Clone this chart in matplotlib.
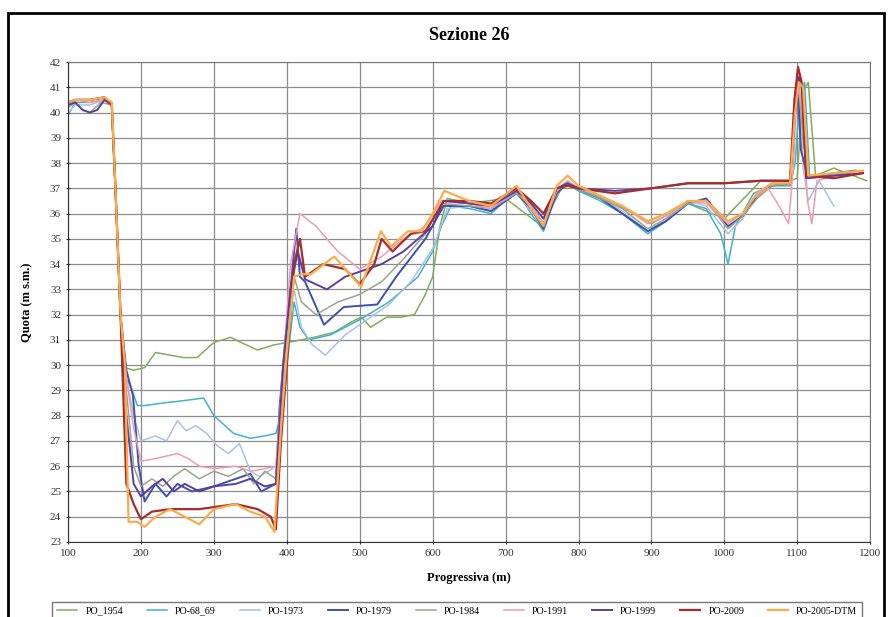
import matplotlib.pyplot as plt
from matplotlib.patches import Rectangle

# ==============================
# DATA
# ==============================
labels = ["PO_1954", "PO-68_69", "PO-1973", "PO-1979", "PO-1984",
          "PO-1991", "PO-1999", "PO-2009", "PO-2005-DTM"]
colors = ["#7fae5a", "#3fb2cf", "#a9c3df", "#3f4fb3", "#9aa58c",
          "#f09ab8", "#5b3f9e", "#a82c2c", "#ffab45"]
widths = [1.1, 1.1, 1.1, 1.4, 1.1, 1.1, 1.4, 1.6, 1.6]

x_1954 = [100, 110, 130, 150, 160, 165, 172, 178, 190, 205, 220, 258, 277, 300, 323, 337,
          360, 382, 401, 420, 437, 465, 488, 502, 515, 537, 557, 575, 590, 600, 610, 620,
          650, 700, 750, 780, 800, 850, 900, 950, 1000, 1050, 1090, 1100, 1107, 1115, 1125,
          1150, 1195]
y_1954 = [40.3, 40.5, 40.5, 40.6, 40.3, 37.0, 32.0, 29.9, 29.8, 29.9, 30.5, 30.3, 30.3, 30.9, 31.1, 30.9,
          30.6, 30.8, 30.9, 31.0, 31.1, 31.3, 31.7, 31.9, 31.5, 31.9, 31.9, 32.0, 32.8, 33.5, 35.5, 36.6,
          36.4, 36.6, 35.5, 37.2, 36.9, 36.4, 35.6, 36.4, 35.8, 37.3, 37.3, 37.4, 40.8, 41.2, 37.5,
          37.8, 37.3]

x_6869 = [100, 110, 130, 150, 160, 165, 172, 180, 188, 195, 205, 230, 260, 286, 300, 327,
          350, 370, 385, 392, 400, 410, 418, 430, 460, 500, 540, 580, 600, 612, 625,
          650, 680, 715, 735, 752, 770, 785, 800, 830, 860, 895, 920, 950, 975, 995, 1005,
          1015, 1040, 1065, 1090, 1097, 1103, 1110, 1117, 1140, 1170]
y_6869 = [39.9, 40.4, 40.4, 40.5, 40.3, 37.0, 32.0, 29.5, 29.0, 28.4, 28.4, 28.5, 28.6, 28.7, 28.0, 27.3,
          27.1, 27.2, 27.3, 28.0, 30.0, 32.5, 31.5, 31.0, 31.2, 31.8, 32.5, 33.5, 34.5, 35.5, 36.3,
          36.2, 36.0, 36.9, 36.0, 35.3, 36.8, 37.2, 36.9, 36.5, 36.0, 35.2, 35.7, 36.4, 36.2, 35.2, 34.0,
          35.5, 36.8, 37.1, 37.1, 38.0, 40.5, 41.2, 37.4, 37.5, 37.6]

x_1973 = [100, 110, 130, 150, 160, 165, 172, 180, 190, 200, 220, 235, 250, 262, 275, 290,
          305, 320, 335, 350, 362, 375, 385, 392, 400, 410, 420, 435, 453, 480, 510, 540,
          570, 600, 620, 650, 680, 715, 735, 752, 770, 785, 800, 830, 860, 895, 920, 950,
          975, 1005, 1025, 1045, 1065, 1090, 1097, 1103, 1108, 1115, 1130, 1150]
y_1973 = [40.0, 40.3, 40.3, 40.5, 40.3, 37.0, 32.0, 29.5, 28.0, 27.0, 27.2, 27.0, 27.8, 27.4, 27.6, 27.3,
          26.8, 26.5, 26.9, 25.8, 25.6, 25.8, 26.0, 28.0, 31.0, 33.0, 31.5, 30.8, 30.4, 31.2, 31.8, 32.4,
          33.3, 34.6, 36.2, 36.3, 36.1, 36.8, 36.1, 35.5, 36.9, 37.3, 37.0, 36.6, 36.1, 35.3, 35.8, 36.5,
          36.3, 35.2, 35.8, 36.8, 37.2, 37.2, 40.5, 41.5, 37.8, 36.5, 37.3, 36.3]

x_1979 = [100, 110, 130, 150, 160, 165, 172, 180, 189, 197, 205, 220, 235, 250, 270, 300,
          330, 350, 365, 378, 385, 390, 398, 405, 413, 418, 425, 451, 478, 524, 550, 590,
          615, 650, 680, 715, 735, 752, 770, 785, 800, 830, 860, 895, 920, 950, 975, 1005,
          1025, 1045, 1065, 1090, 1097, 1101, 1105, 1115, 1150, 1180]
y_1979 = [40.4, 40.5, 40.5, 40.6, 40.3, 37.0, 32.0, 29.8, 28.8, 26.0, 24.6, 25.3, 24.8, 25.3, 25.0, 25.2,
          25.5, 25.7, 25.0, 25.2, 25.3, 28.3, 31.0, 33.0, 35.4, 33.5, 33.3, 31.6, 32.3, 32.4, 33.5, 35.0,
          36.3, 36.3, 36.1, 36.8, 36.2, 35.4, 36.8, 37.2, 37.0, 36.6, 36.0, 35.3, 35.7, 36.4, 36.6, 35.5,
          35.9, 36.7, 37.1, 37.2, 40.0, 40.8, 38.5, 37.4, 37.6, 37.7]

x_1984 = [100, 110, 120, 130, 145, 160, 165, 172, 180, 190, 200, 215, 230, 245, 260, 280,
          300, 320, 340, 355, 370, 385, 392, 400, 410, 420, 440, 470, 500, 530, 560, 590,
          612, 650, 680, 715, 735, 752, 770, 785, 800, 830, 860, 895, 920, 950, 975, 1005,
          1025, 1045, 1065, 1090, 1097, 1102, 1108, 1115, 1150, 1185]
y_1984 = [40.2, 40.4, 40.1, 40.0, 40.4, 40.3, 37.0, 32.0, 29.0, 26.0, 25.2, 25.5, 25.2, 25.6, 25.9, 25.5,
          25.8, 25.6, 25.9, 25.3, 25.8, 25.5, 27.0, 30.5, 33.5, 32.5, 32.0, 32.5, 32.8, 33.3, 34.2, 35.2,
          36.4, 36.3, 36.2, 36.8, 36.3, 35.6, 36.9, 37.2, 37.0, 36.6, 36.2, 35.4, 35.8, 36.4, 36.5, 35.4,
          35.9, 36.6, 37.1, 37.2, 40.2, 41.0, 39.0, 37.4, 37.5, 37.7]

x_1991 = [100, 110, 130, 150, 160, 165, 172, 180, 190, 200, 220, 250, 265, 280, 300, 330,
          350, 370, 385, 395, 405, 418, 440, 470, 500, 530, 560, 590, 612, 650, 680, 715,
          735, 752, 770, 785, 800, 830, 860, 895, 920, 950, 975, 1005, 1025, 1040, 1060, 1075,
          1088, 1095, 1100, 1107, 1114, 1120, 1127, 1150]
y_1991 = [40.3, 40.5, 40.4, 40.5, 40.3, 37.0, 32.0, 29.5, 27.5, 26.2, 26.3, 26.5, 26.3, 26.0, 25.9, 26.0,
          25.8, 25.9, 26.0, 30.0, 34.0, 36.0, 35.5, 34.5, 33.8, 34.3, 35.0, 35.5, 36.5, 36.4, 36.2, 36.9,
          36.3, 35.6, 36.9, 37.3, 37.0, 36.7, 36.3, 35.6, 35.9, 36.5, 36.4, 35.6, 36.0, 36.6, 37.0, 36.3,
          35.6, 38.0, 41.3, 40.0, 36.5, 35.6, 37.3, 37.5]

x_1999 = [100, 110, 120, 130, 140, 150, 160, 165, 172, 180, 190, 200, 215, 230, 245, 260,
          280, 300, 330, 350, 370, 385, 395, 405, 415, 425, 455, 480, 530, 560, 600, 615,
          650, 680, 715, 735, 752, 770, 785, 800, 850, 900, 950, 1000, 1050, 1090, 1097, 1102,
          1107, 1112, 1150, 1190]
y_1999 = [40.3, 40.4, 40.1, 40.0, 40.1, 40.5, 40.3, 37.0, 32.0, 28.0, 25.3, 24.8, 25.2, 25.5, 25.0, 25.3,
          25.0, 25.2, 25.3, 25.5, 25.2, 25.3, 30.0, 33.0, 34.5, 33.4, 33.0, 33.5, 34.0, 34.5, 35.5, 36.5,
          36.4, 36.3, 36.9, 36.4, 35.8, 37.0, 37.2, 37.0, 36.9, 37.0, 37.2, 37.2, 37.3, 37.3, 40.0, 41.4,
          41.0, 37.4, 37.5, 37.6]

x_2009 = [100, 110, 130, 150, 160, 165, 172, 180, 190, 200, 215, 240, 280, 330, 360, 378,
          385, 392, 400, 410, 418, 425, 450, 480, 500, 520, 530, 545, 570, 590, 605, 615,
          650, 680, 715, 735, 752, 770, 785, 800, 850, 900, 950, 1000, 1050, 1090, 1096, 1101,
          1106, 1112, 1150, 1190]
y_2009 = [40.4, 40.5, 40.5, 40.6, 40.3, 37.0, 32.0, 25.3, 24.5, 23.9, 24.2, 24.3, 24.3, 24.5, 24.3, 24.0,
          23.5, 27.0, 30.0, 34.0, 35.0, 33.5, 34.0, 33.8, 33.2, 34.0, 35.0, 34.5, 35.2, 35.3, 36.0, 36.5,
          36.5, 36.4, 37.0, 36.5, 36.0, 37.0, 37.1, 37.0, 36.8, 37.0, 37.2, 37.2, 37.3, 37.3, 40.5, 41.8,
          41.2, 37.5, 37.4, 37.6]

x_dtm = [100, 110, 130, 150, 160, 165, 172, 178, 183, 195, 205, 220, 240, 260, 280, 300,
         330, 350, 370, 383, 392, 400, 410, 420, 433, 465, 502, 529, 543, 566, 585, 600,
         616, 650, 680, 715, 735, 752, 770, 785, 800, 830, 860, 895, 920, 950, 975, 1005,
         1025, 1045, 1065, 1090, 1097, 1102, 1108, 1115, 1150, 1190]
y_dtm = [40.4, 40.5, 40.5, 40.6, 40.4, 37.0, 32.0, 30.0, 23.8, 23.8, 23.6, 24.0, 24.3, 24.0, 23.7, 24.3,
         24.5, 24.2, 24.0, 23.4, 27.5, 30.5, 33.5, 33.6, 33.6, 34.3, 33.1, 35.3, 34.7, 35.3, 35.3, 36.0,
         36.9, 36.5, 36.3, 37.1, 36.2, 35.5, 37.1, 37.5, 37.1, 36.7, 36.3, 35.7, 36.0, 36.5, 36.5, 35.7,
         36.0, 36.8, 37.2, 37.2, 40.0, 41.2, 41.0, 37.5, 37.6, 37.7]

series_x = [x_1954, x_6869, x_1973, x_1979, x_1984, x_1991, x_1999, x_2009, x_dtm]
series_y = [y_1954, y_6869, y_1973, y_1979, y_1984, y_1991, y_1999, y_2009, y_dtm]

# ==============================
# PLOT
# ==============================
plt.rcParams['font.family'] = ['Liberation Serif', 'DejaVu Serif']

fig = plt.figure(figsize=(8.88, 6.17), dpi=100)
ax = fig.add_axes([0.0766, 0.1216, 0.9034, 0.7779])

for xs, ys, lab, col, lw in zip(series_x, series_y, labels, colors, widths):
    ax.plot(xs, ys, color=col, lw=lw, label=lab)

ax.set_xlim(100, 1200)
ax.set_ylim(23, 42)
ax.set_xticks(range(100, 1201, 100))
ax.set_yticks(range(23, 43))
ax.grid(True, color="#8c8c8c", lw=0.9)
ax.set_axisbelow(True)
for s in ax.spines.values():
    s.set_color("#777777")
ax.spines['left'].set_color("#333333")
ax.spines['bottom'].set_color("#333333")
ax.tick_params(labelsize=8, length=3, direction='inout', colors="#333333")

ax.set_title("Sezione 26", fontsize=13, fontweight='bold', pad=16)
ax.set_xlabel("Progressiva (m)", fontsize=9, fontweight='bold', labelpad=10)
ax.set_ylabel("Quota (m s.m.)", fontsize=9, fontweight='bold', labelpad=12)

fig.legend(loc='upper center', bbox_to_anchor=(0.515, 0.033), ncol=9,
           fontsize=7.2, frameon=True, fancybox=False, edgecolor="#555555",
           handlelength=2.0, columnspacing=2.4, borderpad=0.5)

# outer frame of the chart
fig.patches.append(Rectangle((0.009, -0.02), 0.987, 0.999, transform=fig.transFigure,
                             fill=False, edgecolor="black", lw=2))

fig.savefig("out.png", dpi=100)
